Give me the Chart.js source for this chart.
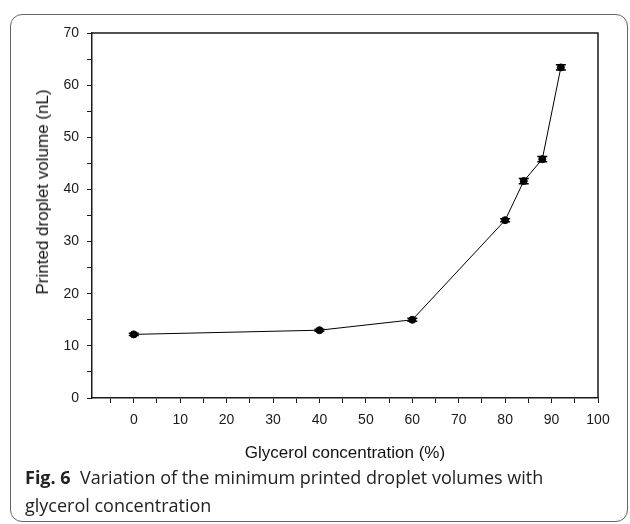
<!DOCTYPE html>
<html>
<head>
<meta charset="utf-8">
<script src="https://cdn.jsdelivr.net/npm/chart.js@4.4.1/dist/chart.umd.min.js"></script>
<style>
  html, body { margin: 0; padding: 0; background: #fff; }
  #page { position: relative; width: 630px; height: 524px; overflow: hidden; }
  #frame {
    position: absolute; left: 10px; top: 14px; width: 616px; height: 506px;
    border: 1.3px solid #666; border-radius: 12px;
  }
  #chart-box { position: absolute; left: 0; top: 0; width: 630px; height: 470px; }
  #y-title {
    position: absolute; left: 43px; top: 192px; transform: translate(-50%, -50%) rotate(-90deg);
    font-family: "Liberation Sans", Arial, sans-serif; font-size: 17px; font-weight: 400;
    color: #111; white-space: nowrap;
  }
  #caption {
    position: absolute; left: 25px; top: 463px;
    font-family: "Open Sans", sans-serif; font-size: 18px; line-height: 28px; color: #222;
  }
  #caption b { font-weight: 700; }
</style>
</head>
<body>
<div id="page">
  <div id="frame"></div>
  <div id="chart-box"><canvas id="chart" width="630" height="470"></canvas></div>
  <div id="y-title">Printed droplet volume (nL)</div>
  <div id="caption"><b>Fig. 6</b>&nbsp; Variation of the minimum printed droplet volumes with<br>glycerol concentration</div>
</div>
<script>
const glycerol = [0, 40, 60, 80, 84, 88, 92];
const dropletVolume = [12.2, 13.0, 15.0, 34.1, 41.6, 45.8, 63.4];
const volumeError = [0.2, 0.2, 0.3, 0.3, 0.5, 0.5, 0.5];
const xTicks = [-5, 0, 5, 10, 15, 20, 25, 30, 35, 40, 45, 50, 55, 60, 65, 70, 75, 80, 85, 90, 95, 100];
const yTicks = [0, 5, 10, 15, 20, 25, 30, 35, 40, 45, 50, 55, 60, 65, 70];

const ink = '#1a1a1a';
const tickFont = { family: '"Liberation Sans", Arial, sans-serif', size: 14 };

const errorBars = {
  id: 'errorBars',
  afterDatasetsDraw(chart) {
    const { ctx, scales: { x, y } } = chart;
    ctx.save();
    ctx.strokeStyle = '#000';
    ctx.lineWidth = 1.5;
    glycerol.forEach((g, i) => {
      const px = x.getPixelForValue(g);
      const top = y.getPixelForValue(dropletVolume[i] + volumeError[i]);
      const bottom = y.getPixelForValue(dropletVolume[i] - volumeError[i]);
      ctx.beginPath();
      ctx.moveTo(px, top);
      ctx.lineTo(px, bottom);
      ctx.moveTo(px - 5, top);
      ctx.lineTo(px + 5, top);
      ctx.moveTo(px - 5, bottom);
      ctx.lineTo(px + 5, bottom);
      ctx.stroke();
    });
    ctx.restore();
  },
};

// top and right edges of the plot box
const boxEdges = {
  id: 'boxEdges',
  afterDraw(chart) {
    const { ctx, chartArea: a } = chart;
    ctx.save();
    ctx.strokeStyle = ink;
    ctx.lineWidth = 1.5;
    ctx.beginPath();
    ctx.moveTo(a.left, a.top);
    ctx.lineTo(a.right, a.top);
    ctx.lineTo(a.right, a.bottom);
    ctx.stroke();
    ctx.restore();
  },
};

new Chart(document.getElementById('chart'), {
  type: 'scatter',
  data: {
    datasets: [
      {
        data: glycerol.map((g, i) => ({ x: g, y: dropletVolume[i] })),
        showLine: true,
        borderColor: '#000',
        borderWidth: 1,
        backgroundColor: '#000',
        pointRadius: 3.5,
        pointHoverRadius: 3.5,
        tension: 0,
      },
    ],
  },
  options: {
    responsive: false,
    animation: false,
    layout: { padding: { top: 33, right: 32, left: 0, bottom: 0 } },
    plugins: { legend: { display: false }, tooltip: { enabled: false } },
    scales: {
      x: {
        type: 'linear',
        min: -9,
        max: 100,
        afterBuildTicks: (scale) => { scale.ticks = xTicks.map((value) => ({ value })); },
        afterFit: (scale) => { scale.height = 72; },
        ticks: {
          color: ink,
          font: tickFont,
          padding: 9,
          maxRotation: 0,
          autoSkip: false,
          callback: (v) => (v >= 0 && v % 10 === 0 ? String(v) : ''),
        },
        grid: { drawOnChartArea: false, tickLength: 5, tickColor: ink, tickWidth: 1 },
        border: { color: ink, width: 1.5 },
        title: {
          display: true,
          text: 'Glycerol concentration (%)',
          color: '#111',
          font: { family: '"Liberation Sans", Arial, sans-serif', size: 17 },
          padding: { top: 0, bottom: 6 },
        },
      },
      y: {
        type: 'linear',
        min: 0,
        max: 70,
        afterBuildTicks: (scale) => { scale.ticks = yTicks.map((value) => ({ value })); },
        afterFit: (scale) => { scale.width = 92; },
        ticks: {
          color: ink,
          font: tickFont,
          padding: 8,
          autoSkip: false,
          callback: (v) => (v % 10 === 0 ? String(v) : ''),
        },
        grid: { drawOnChartArea: false, tickLength: 5, tickColor: ink, tickWidth: 1 },
        border: { color: ink, width: 1.5 },
      },
    },
  },
  plugins: [errorBars, boxEdges],
});
</script>
</body>
</html>
